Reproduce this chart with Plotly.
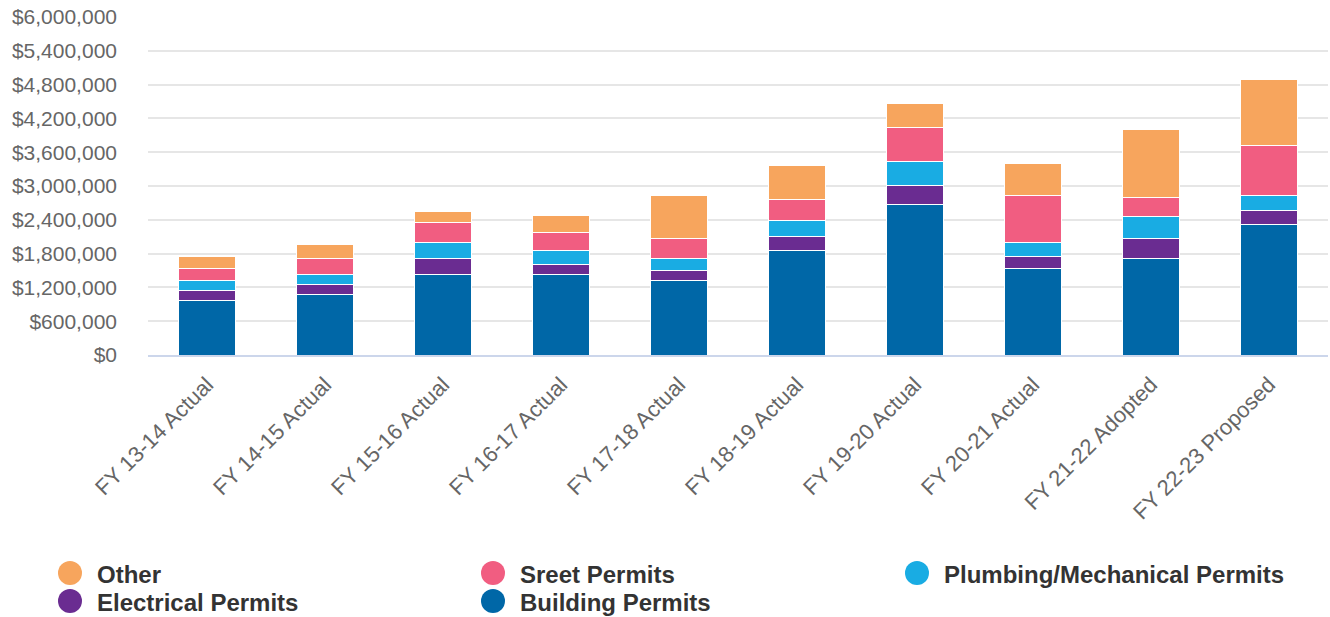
import plotly.graph_objects as go

# Fiscal years on the category axis
categories = [
    "FY 13-14 Actual", "FY 14-15 Actual", "FY 15-16 Actual", "FY 16-17 Actual",
    "FY 17-18 Actual", "FY 18-19 Actual", "FY 19-20 Actual", "FY 20-21 Actual",
    "FY 21-22 Adopted", "FY 22-23 Proposed",
]

# Permit revenue by source (dollars), bottom of the stack first
building_permits = [975000, 1076000, 1429000, 1429000, 1322000, 1851000, 2663000, 1533000, 1710000, 2310000]
electrical_permits = [167000, 177000, 281000, 175000, 176000, 247000, 353000, 212000, 353000, 247000]
plumbing_mechanical_permits = [180000, 174000, 282000, 247000, 212000, 282000, 423000, 247000, 388000, 282000]
street_permits = [213000, 279000, 353000, 318000, 353000, 389000, 600000, 847000, 353000, 883000]
other = [215000, 250000, 210000, 315000, 775000, 600000, 425000, 565000, 1200000, 1165000]

y_ticks = list(range(0, 6000001, 600000))
y_tick_labels = ["${:,}".format(v) for v in y_ticks]

series = [
    ("Building Permits", building_permits, "#0067a7"),
    ("Electrical Permits", electrical_permits, "#6a2c91"),
    ("Plumbing/Mechanical Permits", plumbing_mechanical_permits, "#19ace3"),
    ("Sreet Permits", street_permits, "#f15d81"),
    ("Other", other, "#f7a55d"),
]

fig = go.Figure()
for name, values, color in series:
    fig.add_trace(go.Bar(
        x=categories, y=values, name=name,
        marker=dict(color=color, line=dict(color="#ffffff", width=1)),
        width=0.485, showlegend=False,
    ))

# Plot-area geometry (pixels) used to place the legend below the chart
W, H = 1330, 617
ML, MR, MT, MB = 148, 2, 17, 262
plot_w = W - ML - MR
plot_h = H - MT - MB

def px_to_paper_x(px):
    return (px - ML) / plot_w

def px_to_paper_y(py):
    return (H - MB - py) / plot_h

# Legend laid out in three columns, two rows
legend_order = ["Other", "Sreet Permits", "Plumbing/Mechanical Permits",
                "Electrical Permits", "Building Permits"]
colors = {name: color for name, _, color in series}
col_x = [70, 493, 917]
row_y = [573, 601]
shapes = []
annotations = []
for i, name in enumerate(legend_order):
    cx = col_x[i % 3]
    cy = row_y[i // 3]
    shapes.append(dict(
        type="circle", xref="paper", yref="paper",
        xsizemode="pixel", ysizemode="pixel",
        xanchor=px_to_paper_x(cx), yanchor=px_to_paper_y(cy),
        x0=-12, x1=12, y0=-12, y1=12,
        fillcolor=colors[name], line=dict(width=0),
    ))
    annotations.append(dict(
        x=px_to_paper_x(cx + 25), y=px_to_paper_y(cy + 1),
        xref="paper", yref="paper", xanchor="left", yanchor="middle",
        text="<b>" + name + "</b>", showarrow=False,
        font=dict(family="Liberation Sans, Arial, sans-serif", size=24, color="#333333"),
    ))

fig.update_layout(
    barmode="stack",
    width=W, height=H,
    margin=dict(l=ML, r=MR, t=MT, b=MB),
    plot_bgcolor="#ffffff", paper_bgcolor="#ffffff",
    bargap=0.5,
    shapes=shapes,
    annotations=annotations,
    showlegend=False,
    font=dict(family="Liberation Sans, Arial, sans-serif"),
)
fig.update_yaxes(
    range=[0, 6000000],
    tickvals=y_ticks,
    ticktext=y_tick_labels,
    tickfont=dict(size=21, color="#666666"),
    gridcolor="#e6e6e6", gridwidth=1.5,
    zeroline=False,
    showline=False,
    ticklabelstandoff=30,
)
fig.update_xaxes(
    tickangle=-45,
    tickfont=dict(size=22, color="#666666"),
    showline=True, linecolor="#ccd6eb", linewidth=2,
    showgrid=False,
    ticklabelstandoff=6,
)

fig.write_html("out.html")
